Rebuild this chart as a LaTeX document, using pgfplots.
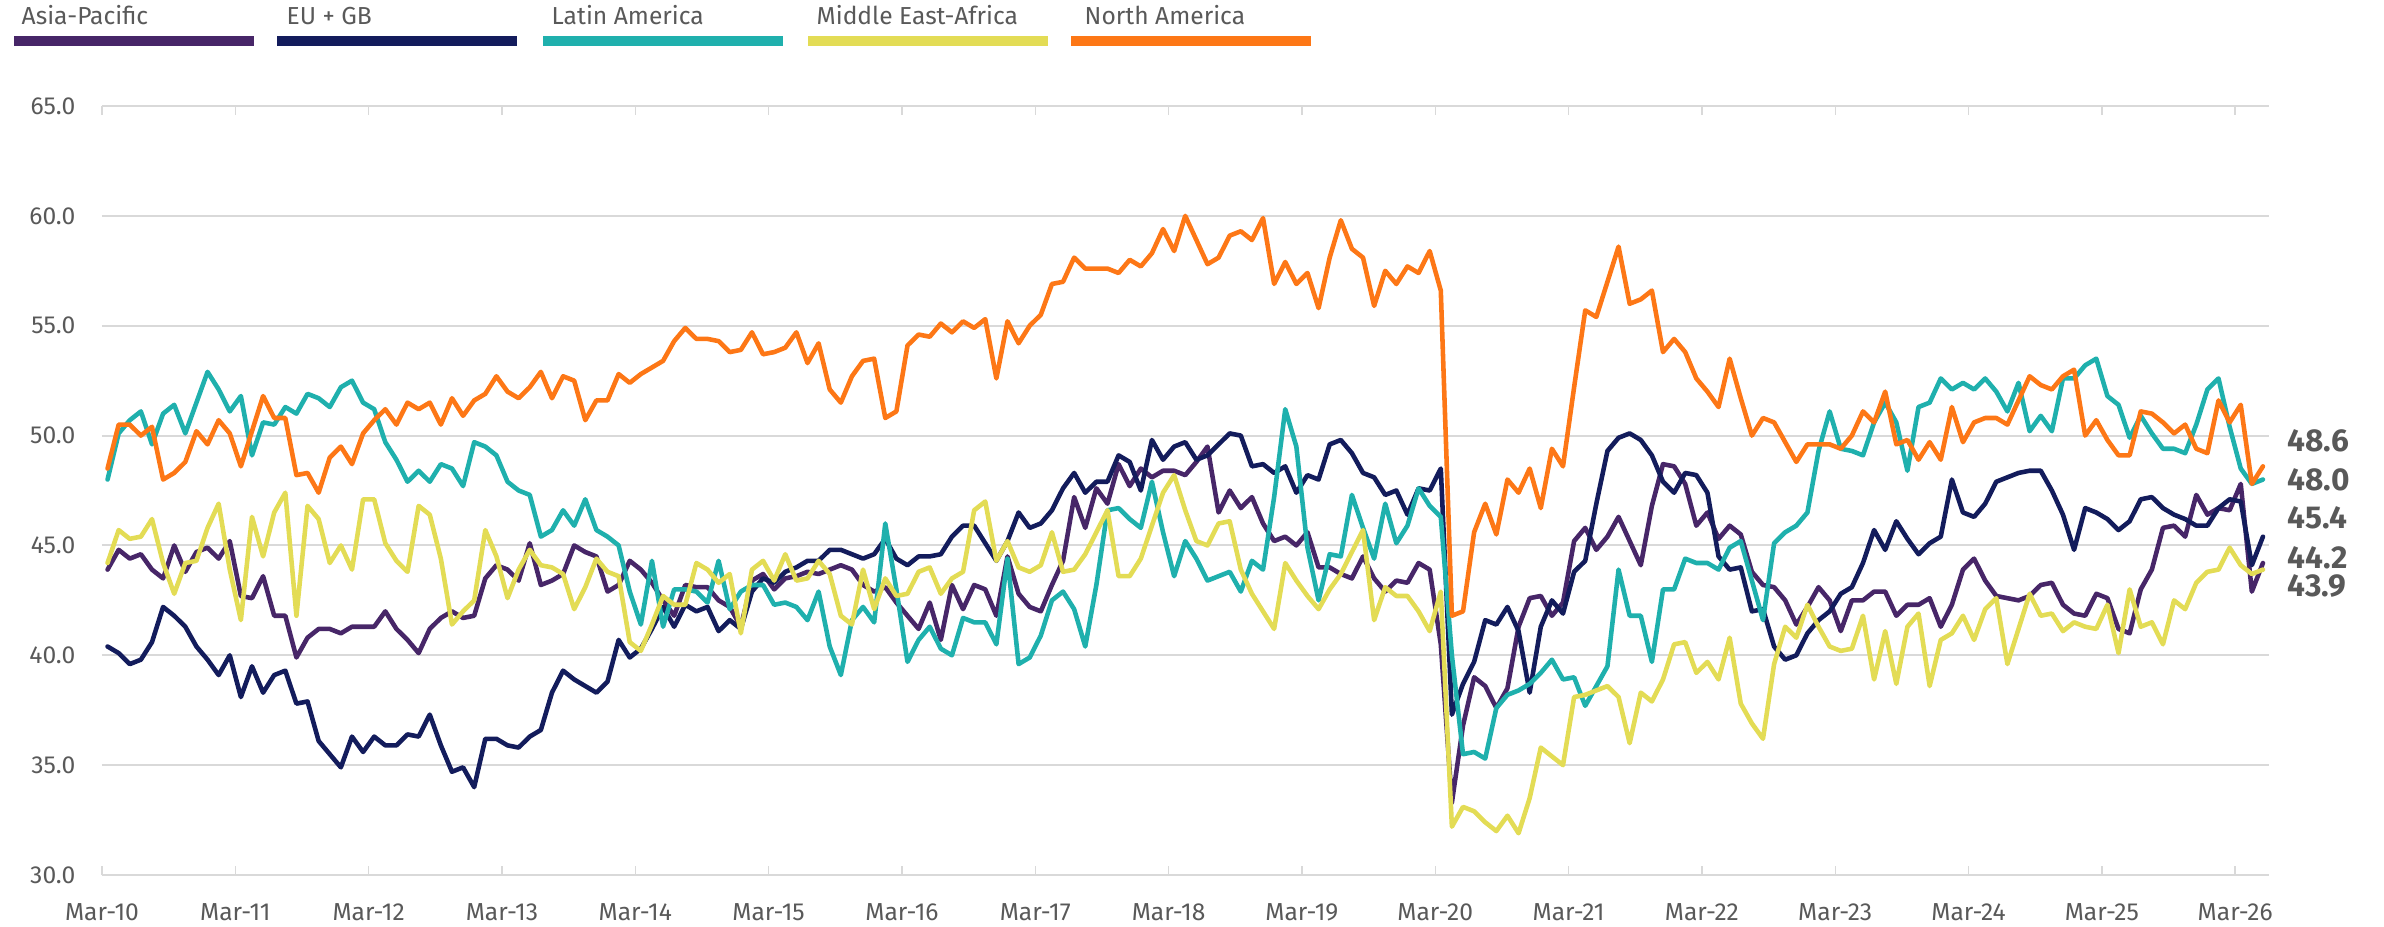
\documentclass[border=0pt]{standalone}
\usepackage{fontspec}
\setmainfont{Fira Sans}
\usepackage{pgfplots}
\usepackage{pgfplotstable}
\pgfplotsset{compat=1.18}

\definecolor{apac}{HTML}{472668}
\definecolor{eugb}{HTML}{131C5C}
\definecolor{latam}{HTML}{1FB0AD}
\definecolor{mea}{HTML}{E3DC55}
\definecolor{nam}{HTML}{FD7716}
\definecolor{txt}{HTML}{595959}
\definecolor{gridc}{HTML}{D9D9D9}

% monthly index, Mar-10 = 0
\pgfplotstableread{
m ap eu la mea na
0 43.9 40.4 48.0 44.2 48.5
1 44.8 40.1 50.1 45.7 50.5
2 44.4 39.6 50.7 45.3 50.5
3 44.6 39.8 51.1 45.4 50.0
4 43.9 40.6 49.6 46.2 50.4
5 43.5 42.2 51.0 44.2 48.0
6 45.0 41.8 51.4 42.8 48.3
7 43.8 41.3 50.1 44.2 48.8
8 44.7 40.4 51.5 44.3 50.2
9 44.9 39.8 52.9 45.8 49.6
10 44.4 39.1 52.1 46.9 50.7
11 45.2 40.0 51.1 43.9 50.1
12 42.7 38.1 51.8 41.6 48.6
13 42.6 39.5 49.1 46.3 50.2
14 43.6 38.3 50.6 44.5 51.8
15 41.8 39.1 50.5 46.5 50.8
16 41.8 39.3 51.3 47.4 50.8
17 39.9 37.8 51.0 41.8 48.2
18 40.8 37.9 51.9 46.8 48.3
19 41.2 36.1 51.7 46.2 47.4
20 41.2 35.5 51.3 44.2 49.0
21 41.0 34.9 52.2 45.0 49.5
22 41.3 36.3 52.5 43.9 48.7
23 41.3 35.6 51.5 47.1 50.1
24 41.3 36.3 51.2 47.1 50.7
25 42.0 35.9 49.7 45.1 51.2
26 41.2 35.9 48.9 44.3 50.5
27 40.7 36.4 47.9 43.8 51.5
28 40.1 36.3 48.4 46.8 51.2
29 41.2 37.3 47.9 46.4 51.5
30 41.7 35.9 48.7 44.4 50.5
31 42.0 34.7 48.5 41.4 51.7
32 41.7 34.9 47.7 42.0 50.9
33 41.8 34.0 49.7 42.5 51.6
34 43.5 36.2 49.5 45.7 51.9
35 44.1 36.2 49.1 44.5 52.7
36 43.9 35.9 47.9 42.6 52.0
37 43.4 35.8 47.5 43.9 51.7
38 45.1 36.3 47.3 44.8 52.2
39 43.2 36.6 45.4 44.1 52.9
40 43.4 38.3 45.7 44.0 51.7
41 43.7 39.3 46.6 43.7 52.7
42 45.0 38.9 45.9 42.1 52.5
43 44.7 38.6 47.1 43.1 50.7
44 44.5 38.3 45.7 44.4 51.6
45 42.9 38.8 45.4 43.8 51.6
46 43.2 40.7 45.0 43.6 52.8
47 44.3 39.9 42.9 40.6 52.4
48 43.9 40.3 41.4 40.2 52.8
49 43.3 41.2 44.3 41.4 53.1
50 42.5 42.2 41.3 42.7 53.4
51 41.8 41.3 43.0 42.3 54.3
52 43.2 42.3 43.0 42.3 54.9
53 43.1 42.0 42.9 44.2 54.4
54 43.1 42.2 42.4 43.9 54.4
55 42.5 41.1 44.3 43.3 54.3
56 42.2 41.6 42.1 43.7 53.8
57 41.3 41.2 42.9 41.0 53.9
58 43.4 42.9 43.2 43.9 54.7
59 43.7 43.5 43.2 44.3 53.7
60 43.0 43.3 42.3 43.4 53.8
61 43.5 43.8 42.4 44.6 54.0
62 43.6 44.0 42.2 43.4 54.7
63 43.8 44.3 41.6 43.5 53.3
64 43.7 44.3 42.9 44.3 54.2
65 43.9 44.8 40.4 43.7 52.1
66 44.1 44.8 39.1 41.8 51.5
67 43.9 44.6 41.6 41.4 52.7
68 43.2 44.4 42.2 43.9 53.4
69 42.9 44.6 41.5 42.1 53.5
70 43.1 45.3 46.0 43.5 50.8
71 42.4 44.4 43.0 42.7 51.1
72 41.8 44.1 39.7 42.8 54.1
73 41.2 44.5 40.7 43.8 54.6
74 42.4 44.5 41.3 44.0 54.5
75 40.7 44.6 40.3 42.8 55.1
76 43.2 45.4 40.0 43.5 54.7
77 42.1 45.9 41.7 43.8 55.2
78 43.2 45.9 41.5 46.6 54.9
79 43.0 45.1 41.5 47.0 55.3
80 41.8 44.3 40.5 44.3 52.6
81 44.5 45.2 44.4 45.2 55.2
82 42.8 46.5 39.6 44.0 54.2
83 42.2 45.8 39.9 43.8 55.0
84 42.0 46.0 40.9 44.1 55.5
85 43.2 46.6 42.5 45.6 56.9
86 44.3 47.6 42.9 43.8 57.0
87 47.2 48.3 42.1 43.9 58.1
88 45.8 47.4 40.4 44.6 57.6
89 47.6 47.9 43.2 45.6 57.6
90 46.9 47.9 46.6 46.6 57.6
91 48.7 49.1 46.7 43.6 57.4
92 47.7 48.8 46.2 43.6 58.0
93 48.5 47.5 45.8 44.4 57.7
94 48.1 49.8 47.9 45.9 58.3
95 48.4 48.9 45.6 47.4 59.4
96 48.4 49.5 43.6 48.2 58.4
97 48.2 49.7 45.2 46.6 60.0
98 48.8 48.9 44.4 45.2 58.9
99 49.5 49.1 43.4 45.0 57.8
100 46.5 49.6 43.6 46.0 58.1
101 47.5 50.1 43.8 46.1 59.1
102 46.7 50.0 42.9 43.9 59.3
103 47.2 48.6 44.3 42.8 58.9
104 46.0 48.7 43.9 42.0 59.9
105 45.2 48.3 47.2 41.2 56.9
106 45.4 48.6 51.2 44.2 57.9
107 45.0 47.4 49.5 43.4 56.9
108 45.6 48.2 44.9 42.7 57.4
109 44.0 48.0 42.5 42.1 55.8
110 44.0 49.6 44.6 43.0 58.1
111 43.7 49.8 44.5 43.7 59.8
112 43.5 49.2 47.3 44.7 58.5
113 44.5 48.3 45.8 45.7 58.1
114 43.5 48.1 44.4 41.6 55.9
115 42.9 47.3 46.9 43.1 57.5
116 43.4 47.5 45.1 42.7 56.9
117 43.3 46.4 45.9 42.7 57.7
118 44.2 47.6 47.6 42.0 57.4
119 43.9 47.5 46.8 41.1 58.4
120 40.5 48.5 46.3 42.9 56.6
121 33.3 37.3 40.0 32.2 41.8
122 36.8 38.7 35.5 33.1 42.0
123 39.0 39.7 35.6 32.9 45.6
124 38.6 41.6 35.3 32.4 46.9
125 37.6 41.4 37.6 32.0 45.5
126 38.5 42.2 38.2 32.7 48.0
127 41.3 41.1 38.4 31.9 47.4
128 42.6 38.3 38.7 33.5 48.5
129 42.7 41.3 39.2 35.8 46.7
130 41.8 42.5 39.8 35.4 49.4
131 42.4 41.9 38.9 35.0 48.6
132 45.2 43.8 39.0 38.1 52.2
133 45.8 44.3 37.7 38.2 55.7
134 44.8 46.9 38.6 38.4 55.4
135 45.4 49.3 39.5 38.6 57.0
136 46.3 49.9 43.9 38.1 58.6
137 45.2 50.1 41.8 36.0 56.0
138 44.1 49.8 41.8 38.3 56.2
139 46.8 49.1 39.7 37.9 56.6
140 48.7 47.9 43.0 38.9 53.8
141 48.6 47.4 43.0 40.5 54.4
142 47.8 48.3 44.4 40.6 53.8
143 45.9 48.2 44.2 39.2 52.6
144 46.5 47.4 44.2 39.7 52.0
145 45.3 44.5 43.9 38.9 51.3
146 45.9 43.9 44.9 40.8 53.5
147 45.5 44.0 45.2 37.8 51.7
148 43.8 42.0 43.4 36.9 50.0
149 43.2 42.1 41.6 36.2 50.8
150 43.1 40.4 45.1 39.6 50.6
151 42.5 39.8 45.6 41.3 49.7
152 41.4 40.0 45.9 40.8 48.8
153 42.2 41.0 46.5 42.3 49.6
154 43.1 41.6 49.3 41.3 49.6
155 42.5 42.0 51.1 40.4 49.6
156 41.1 42.8 49.4 40.2 49.4
157 42.5 43.1 49.3 40.3 50.0
158 42.5 44.2 49.1 41.8 51.1
159 42.9 45.7 50.6 38.9 50.6
160 42.9 44.8 51.5 41.1 52.0
161 41.8 46.1 50.6 38.7 49.6
162 42.3 45.3 48.4 41.3 49.8
163 42.3 44.6 51.3 41.9 48.9
164 42.6 45.1 51.5 38.6 49.7
165 41.3 45.4 52.6 40.7 48.9
166 42.3 48.0 52.1 41.0 51.3
167 43.9 46.5 52.4 41.8 49.7
168 44.4 46.3 52.1 40.7 50.6
169 43.4 46.9 52.6 42.1 50.8
170 42.7 47.9 52.0 42.6 50.8
171 42.6 48.1 51.1 39.6 50.5
172 42.5 48.3 52.4 41.2 51.6
173 42.7 48.4 50.2 42.8 52.7
174 43.2 48.4 50.9 41.8 52.3
175 43.3 47.5 50.2 41.9 52.1
176 42.3 46.4 52.6 41.1 52.7
177 41.9 44.8 52.6 41.5 53.0
178 41.8 46.7 53.2 41.3 50.0
179 42.8 46.5 53.5 41.2 50.7
180 42.6 46.2 51.8 42.3 49.8
181 41.2 45.7 51.4 40.1 49.1
182 41.0 46.1 49.9 43.0 49.1
183 43.0 47.1 50.9 41.3 51.1
184 43.9 47.2 50.1 41.5 51.0
185 45.8 46.7 49.4 40.5 50.6
186 45.9 46.4 49.4 42.5 50.1
187 45.4 46.2 49.2 42.1 50.5
188 47.3 45.9 50.5 43.3 49.4
189 46.4 45.9 52.1 43.8 49.2
190 46.7 46.7 52.6 43.9 51.6
191 46.6 47.1 50.4 44.9 50.6
192 47.8 47.0 48.5 44.1 51.4
193 42.9 44.1 47.8 43.7 47.8
194 44.2 45.4 48.0 43.9 48.6
}\pmi

\begin{document}
\begin{tikzpicture}
\useasboundingbox (-1.02,-0.51) rectangle (22.82,8.75);
\begin{axis}[
    at={(0,0)}, anchor=south west,
    scale only axis,
    width=21.665cm, height=7.69cm,
    xmin=-0.5, xmax=194.5,
    ymin=30, ymax=65,
    axis line style={draw=none},
    clip=false,
    ytick={30,35,40,45,50,55,60,65},
    ymajorgrids=true,
    grid style={gridc, line width=0.6pt},
    xtick={-0.5,11.5,23.5,35.5,47.5,59.5,71.5,83.5,95.5,107.5,119.5,131.5,143.5,155.5,167.5,179.5,191.5},
    xticklabels={Mar-10,Mar-11,Mar-12,Mar-13,Mar-14,Mar-15,Mar-16,Mar-17,Mar-18,Mar-19,Mar-20,Mar-21,Mar-22,Mar-23,Mar-24,Mar-25,Mar-26},
    tick align=inside,
    major tick length=0.09cm,
    xtick style={gridc, line width=0.4pt},
    ytick style={draw=none},
    tick label style={font=\fontsize{7}{8}\selectfont, text=txt},
    yticklabel style={inner sep=0pt, xshift=-0.26cm},
    y tick label style={/pgf/number format/fixed, /pgf/number format/fixed zerofill, /pgf/number format/precision=1},
    xticklabel style={inner sep=0pt, yshift=-0.28cm},
    /pgf/number format/assume math mode=true,
    every axis plot/.append style={line width=1.3pt, line join=round, line cap=round, mark=none},
]
\draw[gridc, line width=0.8pt] (axis cs:-0.5,30) -- (axis cs:194.5,30);
\addplot[apac]  table[x=m, y=ap]  {\pmi};
\addplot[eugb]  table[x=m, y=eu]  {\pmi};
\addplot[latam] table[x=m, y=la]  {\pmi};
\addplot[mea]   table[x=m, y=mea] {\pmi};
\addplot[nam]   table[x=m, y=na]  {\pmi};
\end{axis}

% legend
\begin{scope}[every node/.style={anchor=base west, inner sep=0pt, text=txt, font=\fontsize{7}{8}\selectfont}]
\fill[apac]  (-0.88,8.29) rectangle (1.52,8.39);
\node at (-0.81,8.50) {Asia-Pacific};
\fill[eugb]  (1.75,8.29) rectangle (4.15,8.39);
\node at (1.84,8.50) {EU + GB};
\fill[latam] (4.41,8.29) rectangle (6.81,8.39);
\node at (4.49,8.50) {Latin America};
\fill[mea]   (7.06,8.29) rectangle (9.46,8.39);
\node at (7.14,8.50) {Middle East-Africa};
\fill[nam]   (9.69,8.29) rectangle (12.09,8.39);
\node at (9.82,8.50) {North America};
\end{scope}

% latest values
\begin{scope}[every node/.style={anchor=west, inner sep=0pt, text=txt, font=\bfseries\fontsize{9}{10}\selectfont}]
\node at (21.85,4.34) {48.6};
\node at (21.85,3.95) {48.0};
\node at (21.85,3.57) {45.4};
\node at (21.85,3.17) {44.2};
\node at (21.85,2.89) {43.9};
\end{scope}
\end{tikzpicture}
\end{document}
